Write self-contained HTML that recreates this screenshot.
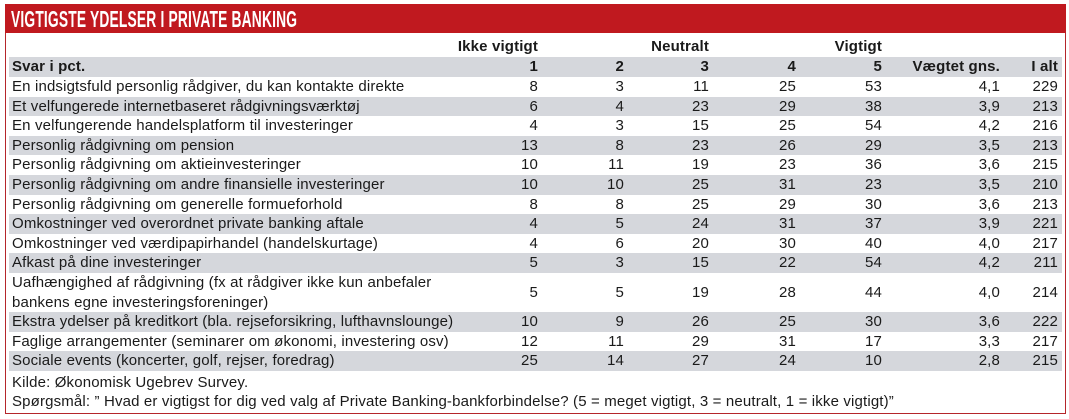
<!DOCTYPE html>
<html><head><meta charset="utf-8"><style>
body{margin:0;width:1069px;height:419px;background:#fff;overflow:hidden;font-family:"Liberation Sans",sans-serif;}
#frame{position:absolute;left:5px;top:4px;width:1059px;height:408px;border:1px solid #b5262b;}
#title{position:absolute;left:5px;top:4px;width:1061px;height:29px;background:#c0191f;}
#title span{position:absolute;left:6px;top:2px;color:#fff;font-weight:bold;font-size:23px;transform:scaleX(0.6);transform-origin:left top;white-space:nowrap;letter-spacing:0.3px}
.r{position:absolute;left:9px;width:1053px;font-size:15px;letter-spacing:0.15px;color:#1a1a1a;}
.g{background:#d5d7dc;}
.r div{position:absolute;top:0;text-align:right;white-space:nowrap;}
.l{left:3px!important;text-align:left!important;}
.b{font-weight:bold;}
</style></head><body>
<div id="frame"></div>
<div id="title"><span>VIGTIGSTE YDELSER I PRIVATE BANKING</span></div>
<div id="rows"></div>
<script>
var cols=[529,615,700,787,873,991,1049];
var rows=[
["En indsigtsfuld personlig rådgiver, du kan kontakte direkte","8","3","11","25","53","4,1","229"],
["Et velfungerede internetbaseret rådgivningsværktøj","6","4","23","29","38","3,9","213"],
["En velfungerende handelsplatform til investeringer","4","3","15","25","54","4,2","216"],
["Personlig rådgivning om pension","13","8","23","26","29","3,5","213"],
["Personlig rådgivning om aktieinvesteringer","10","11","19","23","36","3,6","215"],
["Personlig rådgivning om andre finansielle investeringer","10","10","25","31","23","3,5","210"],
["Personlig rådgivning om generelle formueforhold","8","8","25","29","30","3,6","213"],
["Omkostninger ved overordnet private banking aftale","4","5","24","31","37","3,9","221"],
["Omkostninger ved værdipapirhandel (handelskurtage)","4","6","20","30","40","4,0","217"],
["Afkast på dine investeringer","5","3","15","22","54","4,2","211"],
["Uafhængighed af rådgivning (fx at rådgiver ikke kun anbefaler<br>bankens egne investeringsforeninger)","5","5","19","28","44","4,0","214"],
["Ekstra ydelser på kreditkort (bla. rejseforsikring, lufthavnslounge)","10","9","26","25","30","3,6","222"],
["Faglige arrangementer (seminarer om økonomi, investering osv)","12","11","29","31","17","3,3","217"],
["Sociale events (koncerter, golf, rejser, foredrag)","25","14","27","24","10","2,8","215"]];
var h='';
function cell(x,t,extra){return '<div style="right:'+(1053-x)+'px'+(extra||'')+'">'+t+'</div>';}
h+='<div class="r b" style="top:37px;height:20px;line-height:20px">'+cell(529,'Ikke vigtigt')+cell(700,'Neutralt')+cell(873,'Vigtigt')+'</div>';
var hd=['1','2','3','4','5','Vægtet gns.','I alt'];
h+='<div class="r g b" style="top:57px;height:20px;line-height:20px"><div class="l">Svar i pct.</div>';
hd.forEach(function(t,i){h+=cell(cols[i],t);});h+='</div>';
var y=77;
rows.forEach(function(r,k){
 var two=k==10, ht=two?39:19.6;
 h+='<div class="r'+(k%2?' g':'')+'" style="top:'+y+'px;height:'+ht+'px;line-height:'+(two?'19.5px':ht+'px')+'"><div class="l">'+r[0]+'</div>';
 for(var i=1;i<8;i++)h+=cell(cols[i-1],r[i],two?';top:10px':'');
 h+='</div>';y+=ht;});
h+='<div class="r" style="top:373px;height:20px;line-height:20px"><div class="l">Kilde: Økonomisk Ugebrev Survey.</div></div>';
h+='<div class="r" style="top:392px;height:20px;line-height:20px"><div class="l">Spørgsmål: ” Hvad er vigtigst for dig ved valg af Private Banking-bankforbindelse? (5 = meget vigtigt, 3 = neutralt, 1 = ikke vigtigt)”</div></div>';
document.getElementById('rows').innerHTML=h;
</script>
</body></html>
